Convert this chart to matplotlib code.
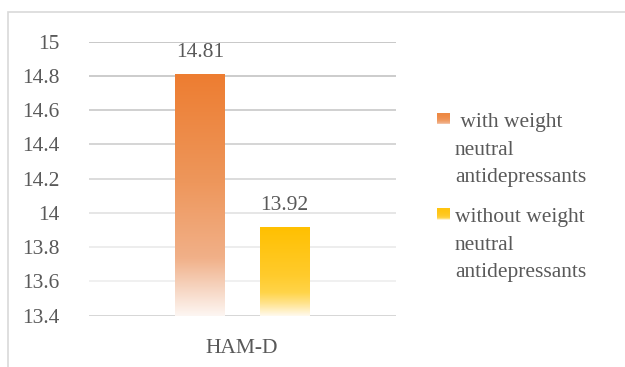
import numpy as np
import matplotlib
matplotlib.use("Agg")
import matplotlib.pyplot as plt
from matplotlib.colors import LinearSegmentedColormap, to_rgb
from matplotlib.patches import Rectangle

# ---- data -------------------------------------------------------------
category = "HAM-D"
series_labels = [" with weight\nneutral\nantidepressants",
                 "without weight\nneutral\nantidepressants"]
series_values = [14.81, 13.92]
y_ticks = [13.4, 13.6, 13.8, 14.0, 14.2, 14.4, 14.6, 14.8, 15.0]
y_tick_labels = ["13.4", "13.6", "13.8", "14", "14.2", "14.4", "14.6", "14.8", "15"]

# ---- style -------------------------------------------------------------
plt.rcParams["font.family"] = "serif"
plt.rcParams["font.serif"] = ["Liberation Serif", "DejaVu Serif"]
TEXT = "#595959"
FS = 15.5

gradients = [
    [(0.0, "#ED7D31"), (0.45, "#EE975C"), (0.76, "#F1B088"),
     (0.88, "#F6D3BE"), (1.0, "#FDF6F2")],
    [(0.0, "#FFC000"), (0.55, "#FFCB2C"), (0.74, "#FFD449"),
     (0.86, "#FFE38D"), (1.0, "#FFFAEE")],
]

W, H = 625, 367
fig = plt.figure(figsize=(W / 100, H / 100), dpi=100)

# chart frame
fig.patches.append(Rectangle((8 / W, -0.2), 1.2, (H - 12) / H + 0.2,
                             transform=fig.transFigure, fill=False,
                             edgecolor="#D9D9D9", linewidth=1.2))

ax = fig.add_axes([88.5 / W, 1 - 315.7 / H, 307.3 / W, 274.0 / H])
ax.set_xlim(0, 1)
ax.set_ylim(13.4, 15.0)
for s in ax.spines.values():
    s.set_visible(False)

# horizontal gridlines
grid_colors = ["#D3D3D3", "#EFEFEF", "#ECECEC", "#E4E4E4", "#D9D9D9",
               "#D2D2D2", "#CDCDCD", "#C8C8C8", "#C4C4C4"]
for yv, gc in zip(y_ticks, grid_colors):
    ax.axhline(yv, color=gc, linewidth=1.3, zorder=0.5)

ax.set_yticks(y_ticks)
ax.set_yticklabels(y_tick_labels)
ax.tick_params(axis="y", length=0, pad=21, labelsize=FS, labelcolor=TEXT)
ax.set_xticks([0.5])
ax.set_xticklabels([category])
ax.tick_params(axis="x", length=0, pad=17, labelsize=FS, labelcolor=TEXT)

# bars filled with a vertical gradient
offsets = [-0.137, 0.137]
width = 0.16
bars = ax.bar([0.5 + o for o in offsets], series_values, width=width,
              bottom=0, color="none", edgecolor="none", zorder=2)
y0 = ax.get_ylim()[0]
for patch, stops, val in zip(bars.patches, gradients, series_values):
    cmap = LinearSegmentedColormap.from_list(
        "g", [(p, to_rgb(c)) for p, c in stops])
    t = np.linspace(0, 1, 256).reshape(-1, 1)
    img = ax.imshow(cmap(t), extent=[patch.get_x(), patch.get_x() + patch.get_width(), y0, val],
                    origin="upper", aspect="auto", zorder=2, interpolation="bilinear")
    img.set_clip_path(patch)
    ax.annotate(f"{val:.2f}", (patch.get_x() + patch.get_width() / 2, val),
                xytext=(0, 12.3), textcoords="offset points",
                ha="center", va="baseline", fontsize=FS, color=TEXT)
ax.set_xlim(0, 1)
ax.set_ylim(13.4, 15.0)

# legend: gradient swatch + wrapped label, one text line per row
swatch_tops = [113, 208]
first_baselines = [127, 222]
line_step = 27.5
for stops, label, top, base in zip(gradients, series_labels, swatch_tops, first_baselines):
    cmap = LinearSegmentedColormap.from_list(
        "g", [(p, to_rgb(c)) for p, c in stops])
    n = 12
    sw_h = 11.5
    for k in range(n):
        f = k / (n - 1)
        yy = top + k * sw_h / n
        fig.patches.append(Rectangle((437 / W, 1 - (yy + sw_h / n) / H),
                                     13 / W, (sw_h / n) / H,
                                     transform=fig.transFigure,
                                     facecolor=cmap(0.2 + 0.75 * f ** 2),
                                     edgecolor="none"))
    for i, line in enumerate(label.split("\n")):
        fig.text(455 / W, 1 - (base + i * line_step) / H, line, fontsize=FS,
                 color=TEXT, ha="left", va="baseline")

fig.savefig("out.png", dpi=100)
